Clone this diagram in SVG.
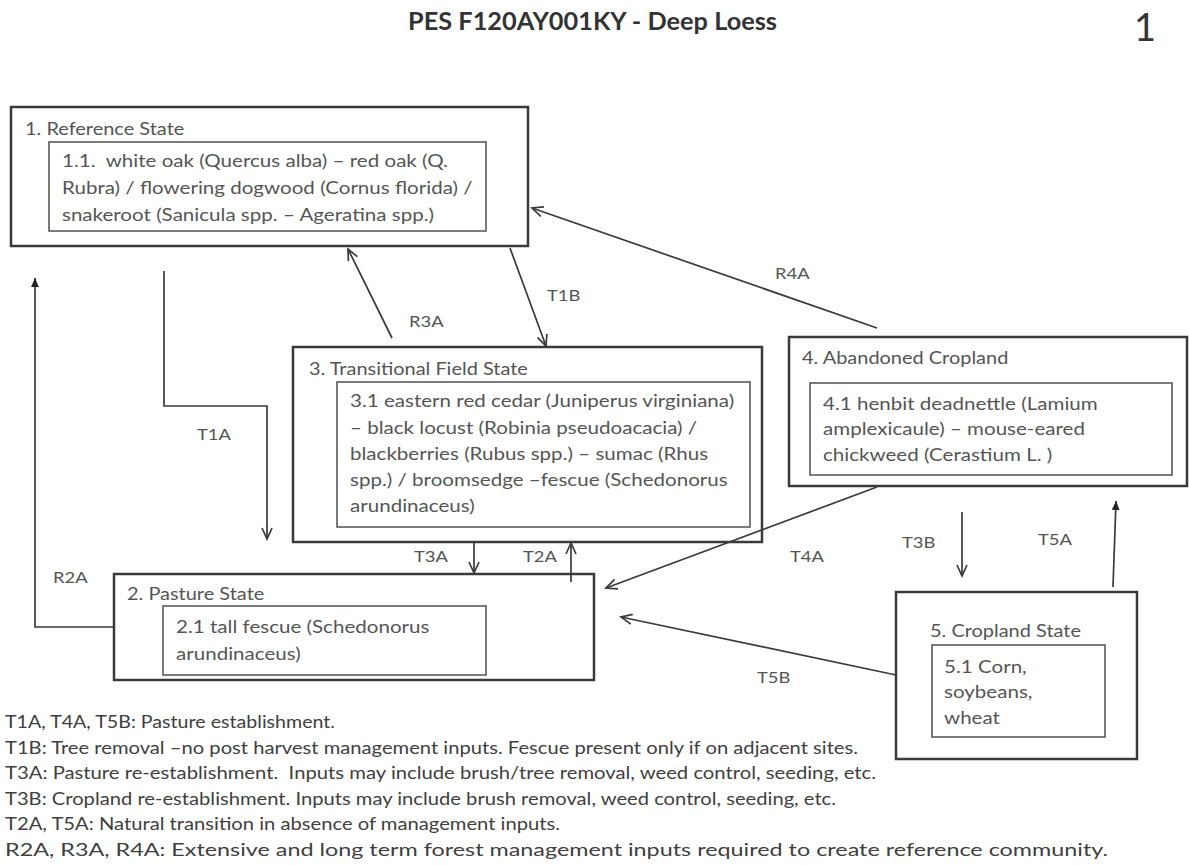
<svg xmlns="http://www.w3.org/2000/svg" width="1189" height="865" viewBox="0 0 1189 865">
<style>
  text { font-family: Lato, "Liberation Sans", sans-serif; white-space: pre; }
  .outer { fill: none; stroke: #3a3a3a; stroke-width: 2.5; }
  .inner { fill: none; stroke: #5a5a5a; stroke-width: 1.6; }
  .st { font-size: 16.5px; fill: #555; }
  .bt { font-size: 17px; fill: #555; }
  .lbl { font-size: 16px; fill: #555; }
  .leg { font-size: 18px; fill: #404040; }
  .con { fill: none; stroke: #3a3a3a; stroke-width: 1.7; }
</style>
<defs>
  <marker id="open" markerUnits="userSpaceOnUse" markerWidth="14" markerHeight="14" refX="12" refY="6" orient="auto" viewBox="0 0 14 12">
    <path d="M1,1 L12,6 L1,11" fill="none" stroke="#3a3a3a" stroke-width="1.7"/>
  </marker>
  <marker id="solid" markerUnits="userSpaceOnUse" markerWidth="10" markerHeight="10" refX="8" refY="4" orient="auto" viewBox="0 0 9 8">
    <path d="M0,0.5 L8,4 L0,7.5 Z" fill="#222"/>
  </marker>
</defs>
<rect width="1189" height="865" fill="#fff"/>
<text x="408" y="30" font-size="24" font-weight="bold" fill="#333" textLength="369" lengthAdjust="spacingAndGlyphs">PES F120AY001KY - Deep Loess</text>
<text x="1134" y="41" font-size="38" fill="#333">1</text>

<g id="connectors">
  <polyline id="T1A" class="con" points="164,271 164,406 267,406 267,539" marker-end="url(#open)"/>
  <polyline id="R2A" class="con" points="114,627 35,627 35,278" marker-end="url(#solid)"/>
  <line id="R3A" class="con" x1="392" y1="338" x2="348" y2="249" marker-end="url(#open)"/>
  <line id="T1B" class="con" x1="510" y1="248" x2="546" y2="346" marker-end="url(#open)"/>
  <line id="R4A" class="con" x1="877" y1="328" x2="532" y2="208" marker-end="url(#open)"/>
  <line id="T3A" class="con" x1="474" y1="542" x2="474" y2="573" marker-end="url(#open)"/>
  <line id="T2A" class="con" x1="571" y1="582" x2="571" y2="543" marker-end="url(#open)"/>
  <line id="T4A" class="con" x1="877" y1="487" x2="606" y2="588" marker-end="url(#open)"/>
  <line id="T5B" class="con" x1="896" y1="675" x2="621" y2="617" marker-end="url(#open)"/>
  <line id="T3B" class="con" x1="962" y1="512" x2="962" y2="576" marker-end="url(#open)"/>
  <line id="T5A" class="con" x1="1113" y1="587" x2="1116" y2="501" marker-end="url(#solid)"/>
  <text class="lbl" transform="matrix(1.15 0 0 1 197 440)">T1A</text>
  <text class="lbl" transform="matrix(1.15 0 0 1 53 583)">R2A</text>
  <text class="lbl" transform="matrix(1.15 0 0 1 409 327)">R3A</text>
  <text class="lbl" transform="matrix(1.15 0 0 1 547 301)">T1B</text>
  <text class="lbl" transform="matrix(1.15 0 0 1 775 279)">R4A</text>
  <text class="lbl" transform="matrix(1.15 0 0 1 414 562)">T3A</text>
  <text class="lbl" transform="matrix(1.15 0 0 1 523 562)">T2A</text>
  <text class="lbl" transform="matrix(1.15 0 0 1 790 562)">T4A</text>
  <text class="lbl" transform="matrix(1.15 0 0 1 757 683)">T5B</text>
  <text class="lbl" transform="matrix(1.15 0 0 1 902 548)">T3B</text>
  <text class="lbl" transform="matrix(1.15 0 0 1 1038 545)">T5A</text>
</g>

<g id="state1">
  <rect class="outer" x="11" y="107" width="517" height="139"/>
  <text class="st" transform="matrix(1.21 0 0 1 25 135)">1. Reference State</text>
  <rect class="inner" x="49" y="142" width="437" height="89"/>
  <text class="bt" transform="matrix(1.21 0 0 1 62 167)">1.1.  white oak (Quercus alba) – red oak (Q.</text>
  <text class="bt" transform="matrix(1.21 0 0 1 62 194)">Rubra) / flowering dogwood (Cornus florida) /</text>
  <text class="bt" transform="matrix(1.21 0 0 1 62 221)">snakeroot (Sanicula spp. – Ageratina spp.)</text>
</g>

<g id="state3">
  <rect class="outer" x="293" y="347" width="469" height="195"/>
  <text class="st" transform="matrix(1.21 0 0 1 309 375)">3. Transitional Field State</text>
  <rect class="inner" x="337" y="382" width="413" height="145"/>
  <text class="bt" transform="matrix(1.21 0 0 1 350 407)">3.1 eastern red cedar (Juniperus virginiana)</text>
  <text class="bt" transform="matrix(1.21 0 0 1 350 434)">– black locust (Robinia pseudoacacia) /</text>
  <text class="bt" transform="matrix(1.21 0 0 1 350 460)">blackberries (Rubus spp.) – sumac (Rhus</text>
  <text class="bt" transform="matrix(1.21 0 0 1 350 486)">spp.) / broomsedge –fescue (Schedonorus</text>
  <text class="bt" transform="matrix(1.21 0 0 1 350 512)">arundinaceus)</text>
</g>

<g id="state4">
  <rect class="outer" x="789" y="337" width="398" height="149"/>
  <text class="st" transform="matrix(1.21 0 0 1 802 364)">4. Abandoned Cropland</text>
  <rect class="inner" x="810" y="383" width="362" height="92"/>
  <text class="bt" transform="matrix(1.21 0 0 1 823 410)">4.1 henbit deadnettle (Lamium</text>
  <text class="bt" transform="matrix(1.21 0 0 1 823 435)">amplexicaule) – mouse-eared</text>
  <text class="bt" transform="matrix(1.21 0 0 1 823 461)">chickweed (Cerastium L. )</text>
</g>

<g id="state2">
  <rect class="outer" x="114" y="574" width="480" height="106"/>
  <text class="st" transform="matrix(1.21 0 0 1 127 600)">2. Pasture State</text>
  <rect class="inner" x="163" y="606" width="323" height="69"/>
  <text class="bt" transform="matrix(1.21 0 0 1 176 633)">2.1 tall fescue (Schedonorus</text>
  <text class="bt" transform="matrix(1.21 0 0 1 176 660)">arundinaceus)</text>
</g>

<g id="state5">
  <rect class="outer" x="896" y="592" width="241" height="167"/>
  <text class="st" transform="matrix(1.21 0 0 1 930 637)">5. Cropland State</text>
  <rect class="inner" x="932" y="645" width="173" height="92"/>
  <text class="bt" transform="matrix(1.21 0 0 1 944 673)">5.1 Corn,</text>
  <text class="bt" transform="matrix(1.21 0 0 1 944 698)">soybeans,</text>
  <text class="bt" transform="matrix(1.21 0 0 1 944 724)">wheat</text>
</g>

<g id="legend">
  <text class="leg" x="5" y="728" textLength="330" lengthAdjust="spacingAndGlyphs">T1A, T4A, T5B: Pasture establishment.</text>
  <text class="leg" x="5" y="754" textLength="853" lengthAdjust="spacingAndGlyphs">T1B: Tree removal –no post harvest management inputs. Fescue present only if on adjacent sites.</text>
  <text class="leg" x="5" y="779" textLength="871" lengthAdjust="spacingAndGlyphs">T3A: Pasture re-establishment.  Inputs may include brush/tree removal, weed control, seeding, etc.</text>
  <text class="leg" x="5" y="805" textLength="831" lengthAdjust="spacingAndGlyphs">T3B: Cropland re-establishment. Inputs may include brush removal, weed control, seeding, etc.</text>
  <text class="leg" x="5" y="830" textLength="555" lengthAdjust="spacingAndGlyphs">T2A, T5A: Natural transition in absence of management inputs.</text>
  <text class="leg" x="5" y="856" textLength="1103" lengthAdjust="spacingAndGlyphs">R2A, R3A, R4A: Extensive and long term forest management inputs required to create reference community.</text>
</g>
</svg>
